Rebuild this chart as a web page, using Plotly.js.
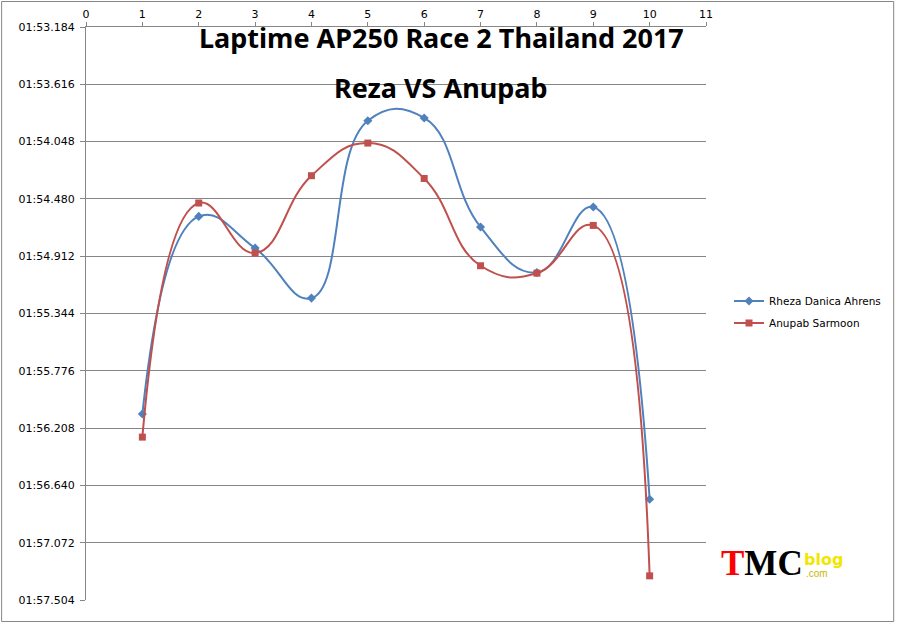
<!DOCTYPE html>
<html><head><meta charset="utf-8">
<script src="https://cdn.plot.ly/plotly-3.0.1.min.js"></script>
<style>html,body{margin:0;padding:0;background:#fff;}#chart{width:897px;height:624px;}</style>
</head><body><div id="chart"></div>
<script>
// Lap numbers
const laps = [1, 2, 3, 4, 5, 6, 7, 8, 9, 10];
// Lap times in seconds (1:53.184 = 113.184)
const rheza = [116.102, 114.612, 114.851, 115.228, 113.891, 113.870, 114.692, 115.035, 114.541, 116.744];
const anupab = [116.276, 114.511, 114.888, 114.305, 114.059, 114.326, 114.984, 115.040, 114.680, 117.322];
const seriesNames = ["Rheza Danica Ahrens", "Anupab Sarmoon"];
const yTickVals = [113.184, 113.616, 114.048, 114.480, 114.912, 115.344, 115.776, 116.208, 116.640, 117.072, 117.504];
const yTickText = ["01:53.184", "01:53.616", "01:54.048", "01:54.480", "01:54.912", "01:55.344", "01:55.776", "01:56.208", "01:56.640", "01:57.072", "01:57.504"];

const font = "DejaVu Sans, sans-serif";
const traces = [
  {x: laps, y: rheza, name: seriesNames[0], legendgroup: "a", mode: "lines+markers", type: "scatter",
   line: {color: "#4F81BD", width: 2, shape: "spline", smoothing: 1.3},
   marker: {symbol: "diamond", size: 7, color: "#4F81BD"}},
  {x: laps, y: anupab, name: seriesNames[1], legendgroup: "b", mode: "lines+markers", type: "scatter",
   line: {color: "#C0504D", width: 2, shape: "spline", smoothing: 1.3},
   marker: {symbol: "square", size: 7, color: "#C0504D"}}
];
const layout = {
  width: 897, height: 624,
  margin: {l: 86, r: 190, t: 27, b: 24},
  paper_bgcolor: "#fff", plot_bgcolor: "#fff",
  font: {family: font, size: 11, color: "#000"},
  showlegend: true,
  legend: {x: (729-86)/621, xanchor: "left", y: (600-312)/573, yanchor: "middle", font: {family: font, size: 10.5, color: "#000"}, tracegroupgap: 3, bgcolor: "rgba(0,0,0,0)"},
  xaxis: {side: "top", range: [0, 11], dtick: 1, tick0: 0, showgrid: false, zeroline: false,
          showline: true, linecolor: "#868686", linewidth: 1, ticks: "outside", ticklen: 4, tickcolor: "#868686",
          tickfont: {family: font, size: 11, color: "#000"}, fixedrange: true},
  yaxis: {range: [117.504, 113.184], tickvals: yTickVals, ticktext: yTickText, showgrid: true, gridcolor: "#868686", gridwidth: 1,
          zeroline: false, showline: true, linecolor: "#868686", linewidth: 1, ticks: "outside", ticklen: 5, tickcolor: "#868686",
          ticklabelstandoff: 3, tickfont: {family: font, size: 11, color: "#000"}, fixedrange: true},
  shapes: [
    {type: "rect", xref: "paper", yref: "paper", x0: -0.1361, x1: 1.3027, y0: -0.0375, y1: 1.0445, line: {color: "#868686", width: 1}, fillcolor: "rgba(0,0,0,0)", layer: "below"}
  ],
  annotations: [
    {text: "<b>Laptime AP250 Race 2 Thailand 2017</b>", xref: "paper", yref: "paper", x: (442-86)/621, y: (600-37)/573, xanchor: "center", yanchor: "middle", showarrow: false, font: {family: "Noto Sans, sans-serif", size: 27, color: "#000"}},
    {text: "<b>Reza VS Anupab</b>", xref: "paper", yref: "paper", x: (442-86)/621, y: (600-87)/573, xanchor: "center", yanchor: "middle", showarrow: false, font: {family: "Noto Sans, sans-serif", size: 27, color: "#000"}},
    {text: "<b><span style='color:#ff0000'>T</span>MC</b>", xref: "paper", yref: "paper", x: (720-86)/621, y: (600-563)/573, xanchor: "left", yanchor: "middle", showarrow: false, font: {family: "Liberation Serif, serif", size: 35, color: "#000"}},
    {text: "<b>blog</b>", xref: "paper", yref: "paper", x: (803-86)/621, y: (600-559)/573, xanchor: "left", yanchor: "middle", showarrow: false, font: {family: "DejaVu Sans, sans-serif", size: 16, color: "#f2e600"}},
    {text: ".com", xref: "paper", yref: "paper", x: (805-86)/621, y: (600-573)/573, xanchor: "left", yanchor: "middle", showarrow: false, font: {family: "Liberation Sans, sans-serif", size: 10, color: "#c8b800"}}
  ]
};
Plotly.newPlot("chart", traces, layout, {displayModeBar: false, staticPlot: true});
</script></body></html>
